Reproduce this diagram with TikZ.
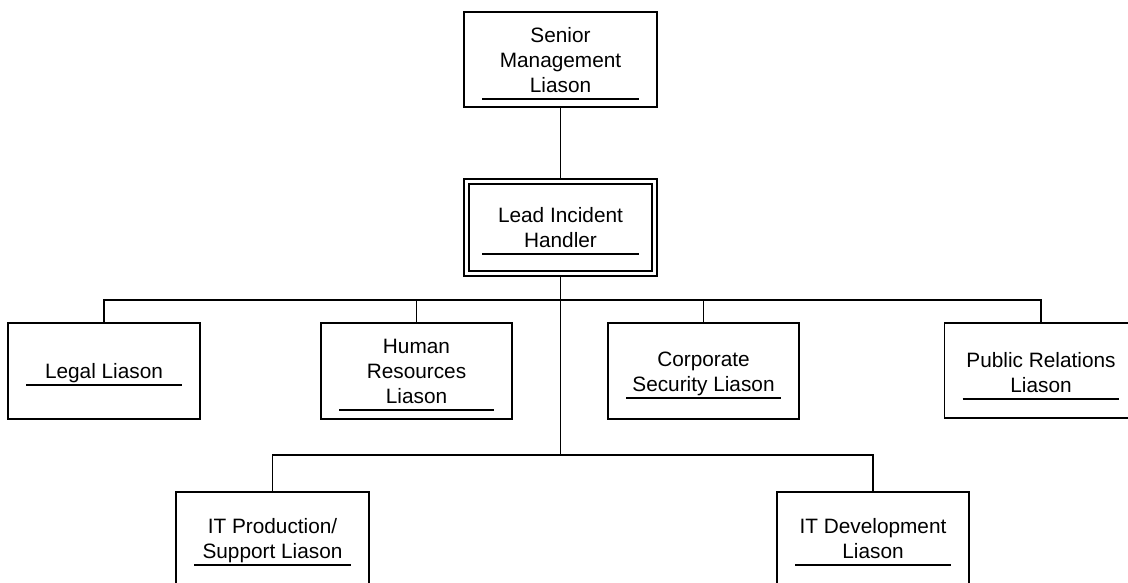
\documentclass[tikz,border=0pt]{standalone}
\usepackage{fontspec}
\setmainfont{Liberation Sans}
\usetikzlibrary{calc}
\tikzset{
  orgbox/.style={draw, line width=1.8pt, inner sep=0pt, fill=white},
  leadbox/.style={draw, line width=1.5pt, double, double distance=3.5pt, inner sep=0pt, outer sep=3.25pt, fill=white},
  lbl/.style={inner sep=0pt, anchor=base, font={\fontsize{20.8pt}{25pt}\selectfont}},
  uline/.style={line width=1.5pt},
  conn/.style={line width=1.8pt}
}
% #1 name, #2 cx, #3 cy, #4 w, #5 h, #6 text, #7 last baseline y
\newcommand\orgunit[8][orgbox]{%
  \node[#1, minimum width=#5pt, minimum height=#6pt] (#2) at (#3,#4) {};
  \node[lbl] (#2-t) at (#3,#8) {\begin{tabular}[b]{@{}c@{}}#7\end{tabular}};
  \draw[uline] ($(#2.west |- #2-t.base)+(19,7)$) -- ($(#2.east |- #2-t.base)+(-19,7)$);
}
\begin{document}
\begin{tikzpicture}[x=1pt,y=-1pt]
\useasboundingbox (0,0) rectangle (1128,582);
\clip (0,0) rectangle (1128,582);
\fill[white] (0,0) rectangle (1128,582);

% connectors (drawn first, boxes on top)
\coordinate (bus1) at (560.5,300);
\coordinate (bus2) at (560.5,455);

\orgunit{senior}{560.5}{59.5}{193}{95}{Senior\\Management\\Liason}{92}
\orgunit[leadbox]{lead}{560.5}{227.5}{188}{92}{Lead Incident\\Handler}{247}
\orgunit{legal}{104}{371}{192}{96}{Legal Liason}{378}
\orgunit{human}{416.5}{371}{191}{96}{Human\\Resources\\Liason}{403}
\orgunit{corp}{703.5}{371}{191}{96}{Corporate\\Security Liason}{391}
\orgunit{public}{1041}{370.5}{193}{95}{Public Relations\\Liason}{392}
\orgunit{itprod}{272.5}{562}{193}{140}{IT Production/\\Support Liason}{558}
\orgunit{itdev}{873}{562}{192}{140}{IT Development\\Liason}{558}

\draw[conn] (senior.south) -- (lead.north);
\draw[conn] (lead.south) -- (bus2);
\draw[conn] (bus1) -| (legal.north);
\draw[conn] (bus1) -| (human.north);
\draw[conn] (bus1) -| (corp.north);
\draw[conn] (bus1) -| (public.north);
\draw[conn] (bus2) -| (itprod.north);
\draw[conn] (bus2) -| (itdev.north);
\end{tikzpicture}
\end{document}
